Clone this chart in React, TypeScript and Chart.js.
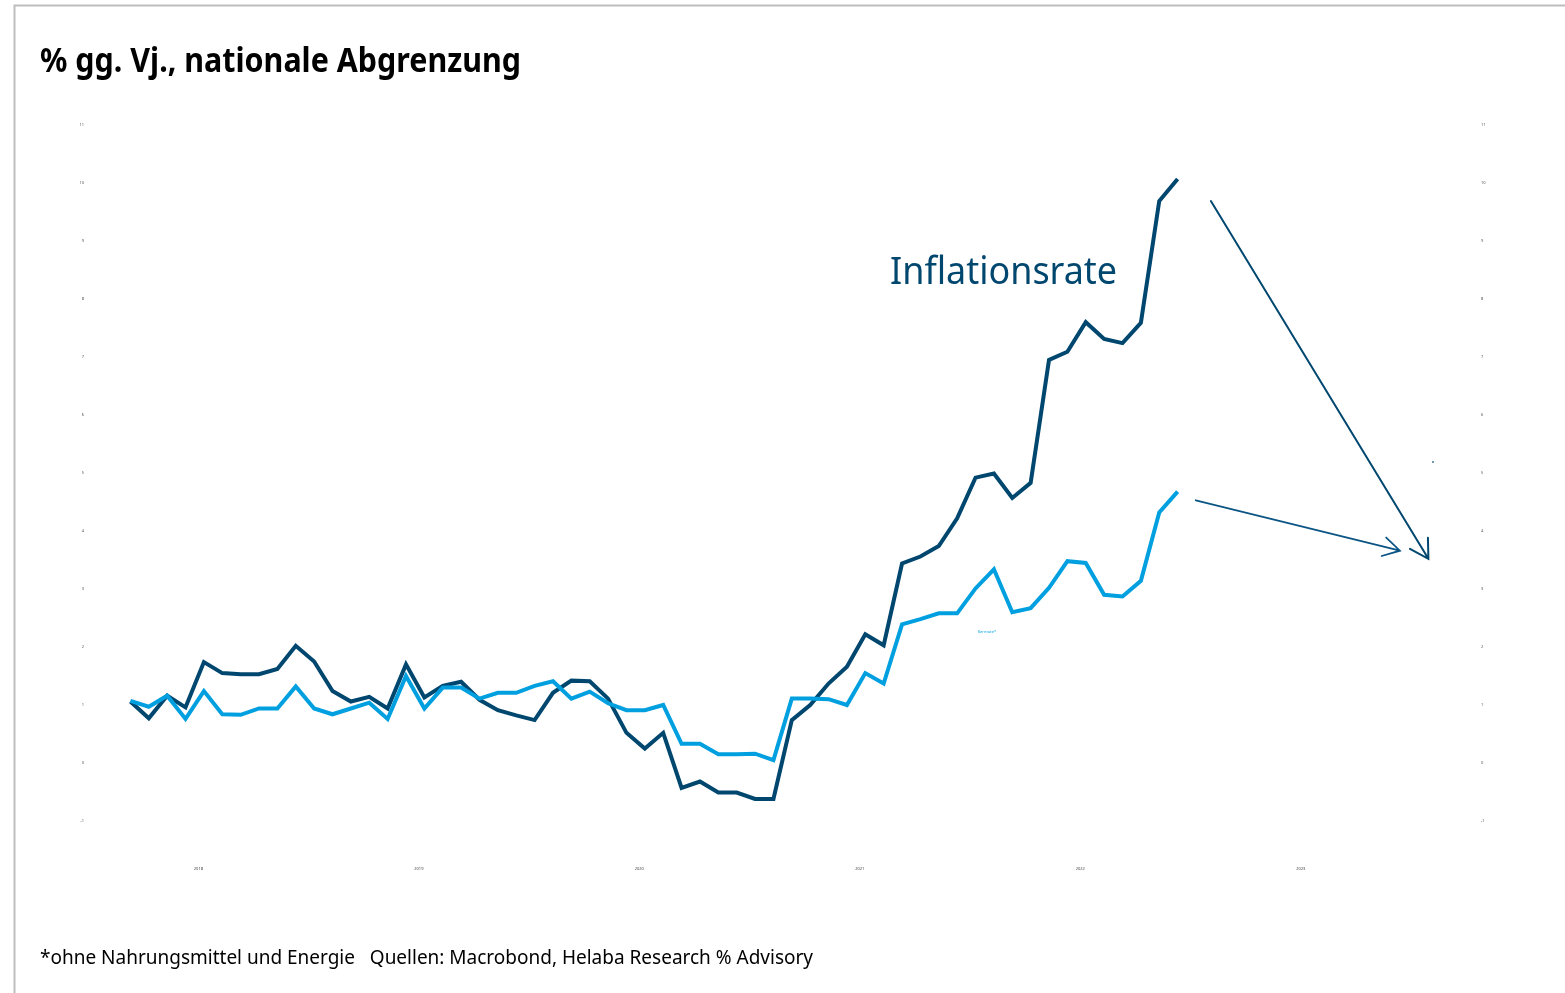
import React, { useEffect, useRef } from "react";
import { Chart, registerables } from "chart.js";

Chart.register(...registerables);

// ---- data ----
const MONTHS = [
  "2017-09", "2017-10", "2017-11", "2017-12",
  "2018-01", "2018-02", "2018-03", "2018-04", "2018-05", "2018-06", "2018-07", "2018-08", "2018-09", "2018-10", "2018-11", "2018-12",
  "2019-01", "2019-02", "2019-03", "2019-04", "2019-05", "2019-06", "2019-07", "2019-08", "2019-09", "2019-10", "2019-11", "2019-12",
  "2020-01", "2020-02", "2020-03", "2020-04", "2020-05", "2020-06", "2020-07", "2020-08", "2020-09", "2020-10", "2020-11", "2020-12",
  "2021-01", "2021-02", "2021-03", "2021-04", "2021-05", "2021-06", "2021-07", "2021-08", "2021-09", "2021-10", "2021-11", "2021-12",
  "2022-01", "2022-02", "2022-03", "2022-04", "2022-05", "2022-06",
];

const INFLATIONSRATE = [
  1.06, 0.77, 1.16, 0.96,
  1.74, 1.55, 1.53, 1.53, 1.62, 2.02, 1.75, 1.24, 1.06, 1.14, 0.94, 1.70,
  1.13, 1.33, 1.40, 1.09, 0.91, 0.82, 0.74, 1.21, 1.42, 1.41, 1.11, 0.52,
  0.25, 0.52, -0.43, -0.32, -0.51, -0.51, -0.62, -0.62, 0.74, 1.00, 1.37, 1.66,
  2.22, 2.03, 3.44, 3.56, 3.74, 4.22, 4.92, 4.99, 4.57, 4.83, 6.95, 7.09,
  7.60, 7.31, 7.24, 7.59, 9.69, 10.07,
];

const KERNRATE = [
  1.07, 0.97, 1.16, 0.76,
  1.24, 0.84, 0.83, 0.94, 0.94, 1.32, 0.94, 0.84, 0.94, 1.04, 0.76, 1.50,
  0.94, 1.30, 1.30, 1.11, 1.21, 1.21, 1.33, 1.41, 1.11, 1.23, 1.03, 0.91,
  0.91, 1.00, 0.33, 0.33, 0.15, 0.15, 0.16, 0.05, 1.11, 1.11, 1.10, 1.00,
  1.55, 1.37, 2.39, 2.48, 2.58, 2.58, 3.01, 3.34, 2.60, 2.67, 3.02, 3.48,
  3.45, 2.90, 2.87, 3.14, 4.32, 4.68,
];

const YEAR_LABELS = ["2018", "2019", "2020", "2021", "2022", "2023"];
const Y_MIN = -1;
const Y_MAX = 11;
const Y_STEP = 1;

// annotations in data coordinates (month index, percent)
const ARROW_INFLATION = [[58.81, 9.69], [70.65, 3.52]];
const ARROW_KERN = [[57.99, 4.53], [69.1, 3.66]];
const LABEL_INFLATION = [41.35, 8.26];
const LABEL_KERN = [46.62, 2.26];
const STRAY_DOT = [70.9, 5.19];

// ---- style ----
const DARK = "#00476f";
const LIGHT = "#00a0e0";
const X_MIN = -2.2;
const X_MAX = 73.35;
const YEAR_LABEL_SHIFT = -0.3;
const FONT = "'Noto Sans', 'DejaVu Sans', sans-serif";

function monthsFromStart(label: string): number {
  const [sy, sm] = MONTHS[0].split("-").map(Number);
  const [y, m] = label.split("-").map(Number);
  return (y - sy) * 12 + (m - sm);
}

function fitText(ctx: CanvasRenderingContext2D, text: string, x: number, baseline: number, font: string, width: number, color: string) {
  ctx.save();
  ctx.font = font;
  ctx.fillStyle = color;
  ctx.textAlign = "left";
  ctx.textBaseline = "alphabetic";
  const w = ctx.measureText(text).width;
  ctx.translate(x, baseline);
  ctx.scale(width / w, 1);
  ctx.fillText(text, 0, 0);
  ctx.restore();
}

function drawArrow(ctx: CanvasRenderingContext2D, x1: number, y1: number, x2: number, y2: number, color: string, lw: number, head: number) {
  const ang = Math.atan2(y2 - y1, x2 - x1);
  ctx.save();
  ctx.strokeStyle = color;
  ctx.lineWidth = lw;
  ctx.lineCap = "round";
  ctx.beginPath();
  ctx.moveTo(x1, y1);
  ctx.lineTo(x2, y2);
  const a1 = ang + Math.PI - Math.PI / 6;
  const a2 = ang + Math.PI + Math.PI / 6;
  ctx.moveTo(x2 + head * Math.cos(a1), y2 + head * Math.sin(a1));
  ctx.lineTo(x2, y2);
  ctx.lineTo(x2 + head * Math.cos(a2), y2 + head * Math.sin(a2));
  ctx.stroke();
  ctx.restore();
}

const overlayPlugin = {
  id: "overlay",
  afterDraw(chart: any) {
    const ctx: CanvasRenderingContext2D = chart.ctx;
    const xs = chart.scales.x;
    const ys = chart.scales.y;
    const px = (v: number) => xs.getPixelForValue(v);
    const py = (v: number) => ys.getPixelForValue(v);

    // frame
    ctx.save();
    ctx.strokeStyle = "#bdbdbd";
    ctx.lineWidth = 2;
    ctx.beginPath();
    ctx.moveTo(14.5, 993);
    ctx.lineTo(14.5, 5.5);
    ctx.lineTo(1565, 5.5);
    ctx.stroke();
    ctx.restore();

    // title and footer
    fitText(ctx, "% gg. Vj., nationale Abgrenzung", 40, 72, `bold 34px ${FONT}`, 481, "#000000");
    fitText(ctx, "*ohne Nahrungsmittel und Energie   Quellen: Macrobond, Helaba Research % Advisory", 40, 964, `19px ${FONT}`, 773, "#000000");

    // series label
    fitText(ctx, "Inflationsrate", px(LABEL_INFLATION[0]), py(LABEL_INFLATION[1]), `38px ${FONT}`, 227, DARK);

    ctx.save();
    ctx.font = `4px ${FONT}`;
    ctx.fillStyle = LIGHT;
    ctx.textAlign = "center";
    ctx.textBaseline = "middle";
    ctx.fillText("Kernrate*", px(LABEL_KERN[0]), py(LABEL_KERN[1]));
    ctx.restore();

    // arrows
    drawArrow(ctx, px(ARROW_INFLATION[0][0]), py(ARROW_INFLATION[0][1]), px(ARROW_INFLATION[1][0]), py(ARROW_INFLATION[1][1]), DARK, 2, 21);
    drawArrow(ctx, px(ARROW_KERN[0][0]), py(ARROW_KERN[0][1]), px(ARROW_KERN[1][0]), py(ARROW_KERN[1][1]), "#0b5585", 1.8, 19);

    ctx.save();
    ctx.fillStyle = DARK;
    ctx.fillRect(px(STRAY_DOT[0]) - 0.75, py(STRAY_DOT[1]) - 0.75, 1.5, 1.5);
    ctx.restore();
  },
};

export default function App() {
  const ref = useRef<HTMLCanvasElement | null>(null);

  useEffect(() => {
    if (!ref.current) return;
    const tickFont = { size: 4, family: FONT };
    const chart = new Chart(ref.current, {
      type: "line",
      data: {
        datasets: [
          {
            label: "Kernrate*",
            data: KERNRATE.map((v, i) => ({ x: i, y: v })),
            borderColor: LIGHT,
            backgroundColor: LIGHT,
            borderWidth: 4,
            pointRadius: 0,
            tension: 0,
            fill: false,
          },
          {
            label: "Inflationsrate",
            data: INFLATIONSRATE.map((v, i) => ({ x: i, y: v })),
            borderColor: DARK,
            backgroundColor: DARK,
            borderWidth: 4,
            pointRadius: 0,
            tension: 0,
            fill: false,
          },
        ],
      },
      options: {
        animation: false,
        responsive: false,
        maintainAspectRatio: false,
        layout: { padding: { top: 125, left: 0, right: 0, bottom: 0 } },
        plugins: {
          legend: { display: false },
          tooltip: { enabled: false },
          title: { display: false },
        },
        scales: {
          x: {
            type: "linear",
            min: X_MIN,
            max: X_MAX,
            grid: { display: false, drawTicks: false },
            border: { display: false },
            afterBuildTicks: (scale: any) => {
              scale.ticks = YEAR_LABELS.map((yr) => ({ value: monthsFromStart(`${yr}-01`) + YEAR_LABEL_SHIFT }));
            },
            afterFit: (scale: any) => {
              scale.height = 172;
            },
            ticks: {
              autoSkip: false,
              maxRotation: 0,
              minRotation: 0,
              padding: 45,
              font: tickFont,
              color: "#444444",
              callback: (_v: any, i: number) => YEAR_LABELS[i],
            },
          },
          y: {
            type: "linear",
            position: "left",
            min: Y_MIN,
            max: Y_MAX,
            grid: { display: false, drawTicks: false },
            border: { display: false },
            afterFit: (scale: any) => {
              scale.width = 90;
            },
            ticks: { stepSize: Y_STEP, padding: 6, font: tickFont, color: "#555555" },
          },
          y2: {
            type: "linear",
            position: "right",
            min: Y_MIN,
            max: Y_MAX,
            grid: { display: false, drawTicks: false },
            border: { display: false },
            afterFit: (scale: any) => {
              scale.width = 87;
            },
            ticks: { stepSize: Y_STEP, padding: 3, font: tickFont, color: "#555555" },
          },
        },
      },
      plugins: [overlayPlugin],
    } as any);
    return () => chart.destroy();
  }, []);

  return (
    <div style={{ position: "absolute", left: 0, top: 0, width: 1565, height: 993, background: "#ffffff" }}>
      <canvas ref={ref} width={1565} height={993} style={{ display: "block", width: 1565, height: 993 }} />
    </div>
  );
}
